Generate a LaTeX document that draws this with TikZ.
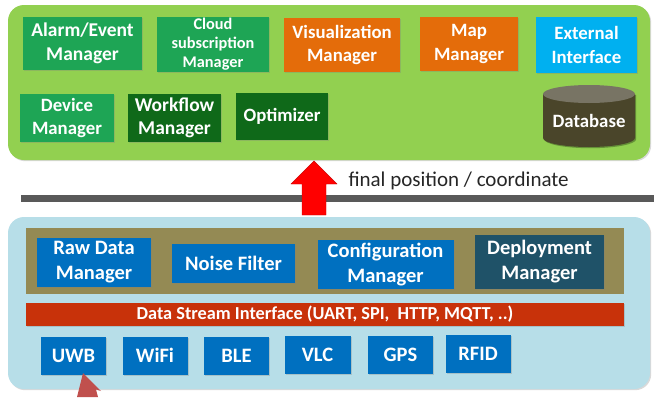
\documentclass[tikz,border=0pt]{standalone}
\usepackage{fontspec}
\setmainfont{Carlito}
\usetikzlibrary{shadows}
\definecolor{contgreen}{RGB}{146,208,80}
\definecolor{midgreen}{RGB}{30,165,85}
\definecolor{darkgreen}{RGB}{15,105,25}
\definecolor{orangebox}{RGB}{228,108,10}
\definecolor{cyanbox}{RGB}{0,176,240}
\definecolor{dbbody}{RGB}{74,69,42}
\definecolor{dbtop}{RGB}{120,116,100}
\definecolor{bargray}{RGB}{89,89,89}
\definecolor{contblue}{RGB}{183,222,232}
\definecolor{olive}{RGB}{148,138,84}
\definecolor{bluebox}{RGB}{0,112,192}
\definecolor{tealbox}{RGB}{31,82,104}
\definecolor{streamred}{RGB}{200,50,10}
\definecolor{brickred}{RGB}{192,80,77}
\begin{document}
\begin{tikzpicture}[x=1pt,y=-1pt,
  shd/.style={drop shadow={opacity=0.3, shadow xshift=1.2pt, shadow yshift=-1.2pt}},
  box/.style={rectangle, inner sep=0pt, text=white, align=center, shd,
    font=\bfseries\fontsize{18.8}{23.5}\selectfont},
  small/.style={font=\bfseries\fontsize{16.3}{19}\selectfont},
  lowbox/.style={box, fill=bluebox, font=\bfseries\fontsize{20.5}{25}\selectfont},
  radio/.style={lowbox, minimum height=38pt},
  container/.style={rounded corners=16pt, shd},
]
\useasboundingbox (0,0) rectangle (654,397);
% top container
\path[container, fill=contgreen] (8,5) rectangle (650,160);
\node[box, fill=midgreen, minimum width=119pt, minimum height=53pt, font=\bfseries\fontsize{19.5}{24}\selectfont] (alarm) at (82.5,43.5) {Alarm/Event\\Manager};
\node[box, small, fill=midgreen, minimum width=112pt, minimum height=55pt] (cloud) at (213,44.5) {Cloud\\subscription\\Manager};
\node[box, fill=orangebox, minimum width=116pt, minimum height=54pt] (vis) at (342,45) {Visualization\\Manager};
\node[box, fill=orangebox, minimum width=98pt, minimum height=54pt] (map) at (469,44) {Map\\Manager};
\node[box, fill=cyanbox, minimum width=101pt, minimum height=56pt] (ext) at (586.5,45) {External\\Interface};
\node[box, fill=midgreen, minimum width=94pt, minimum height=48pt] (device) at (67,118) {Device\\Manager};
\node[box, fill=darkgreen, minimum width=93pt, minimum height=48pt, font=\bfseries\fontsize{19.5}{23.5}\selectfont] (workflow) at (174.5,118) {Workflow\\Manager};
\node[box, fill=darkgreen, minimum width=92pt, minimum height=47pt] (optim) at (282,116.5) {Optimizer};
% database cylinder
\fill[black, opacity=0.3] (544.2,95.2) -- (544.2,139.2) arc[start angle=180,end angle=0,x radius=46,y radius=9] -- (636.2,95.2) -- cycle;
\fill[dbbody] (543,94) -- (543,138) arc[start angle=180,end angle=0,x radius=46,y radius=9] -- (635,94) -- cycle;
\fill[dbtop] (589,94) ellipse[x radius=46, y radius=9];
\node[text=white, font=\bfseries\fontsize{18.8}{22}\selectfont] (db) at (589,121) {Database};
% separator bar and arrow
\draw[bargray, line width=7pt] (21,198.5) -- (654,198.5);
\coordinate (arrbase) at (314,215);
\coordinate (arrtip) at (314,161);
\fill[red, draw=red!80!black, line width=0.4pt] (arrtip) -- (337,184) -- (326,184) -- (326,215) -- (302,215) -- (302,184) -- (291,184) -- cycle;
\node[anchor=west, text=black!85, font=\fontsize{21}{24}\selectfont] (lbl) at (345,181) {final position / coordinate};
% bottom container
\path[container, fill=contblue] (8,217) rectangle (650,389);
\fill[olive] (26,228) rectangle (624,294);
\node[lowbox, minimum width=114pt, minimum height=49pt] (raw) at (94,262.5) {Raw Data\\Manager};
\node[lowbox, minimum width=123pt, minimum height=39pt] (noise) at (233.5,263.5) {Noise Filter};
\node[lowbox, minimum width=136pt, minimum height=49pt] (config) at (385.5,264.5) {Configuration\\Manager};
\node[lowbox, fill=tealbox, minimum width=129pt, minimum height=54pt] (deploy) at (539.5,262) {Deployment\\Manager};
\node[box, fill=streamred, minimum width=598pt, minimum height=23pt, font=\bfseries\fontsize{18.3}{20}\selectfont] (stream) at (325,314.5) {Data Stream Interface (UART, SPI,\ \ HTTP, MQTT, ..)};
\node[radio, minimum width=65pt] (uwb) at (73.5,355.5) {UWB};
\node[radio, minimum width=65pt] (wifi) at (155,355.5) {WiFi};
\node[radio, minimum width=65pt] (ble) at (236.5,355.5) {BLE};
\node[radio, minimum width=66pt] (vlc) at (317.5,355) {VLC};
\node[radio, minimum width=65pt] (gps) at (400.5,355) {GPS};
\node[radio, minimum width=65pt] (rfid) at (478,353.5) {RFID};
% bottom arrow (partially visible)
\coordinate (btip) at (83,373);
\fill[brickred] (btip) -- (101,391) -- (96,389.5) -- (98,397) -- (77,397) -- cycle;
\end{tikzpicture}
\end{document}
